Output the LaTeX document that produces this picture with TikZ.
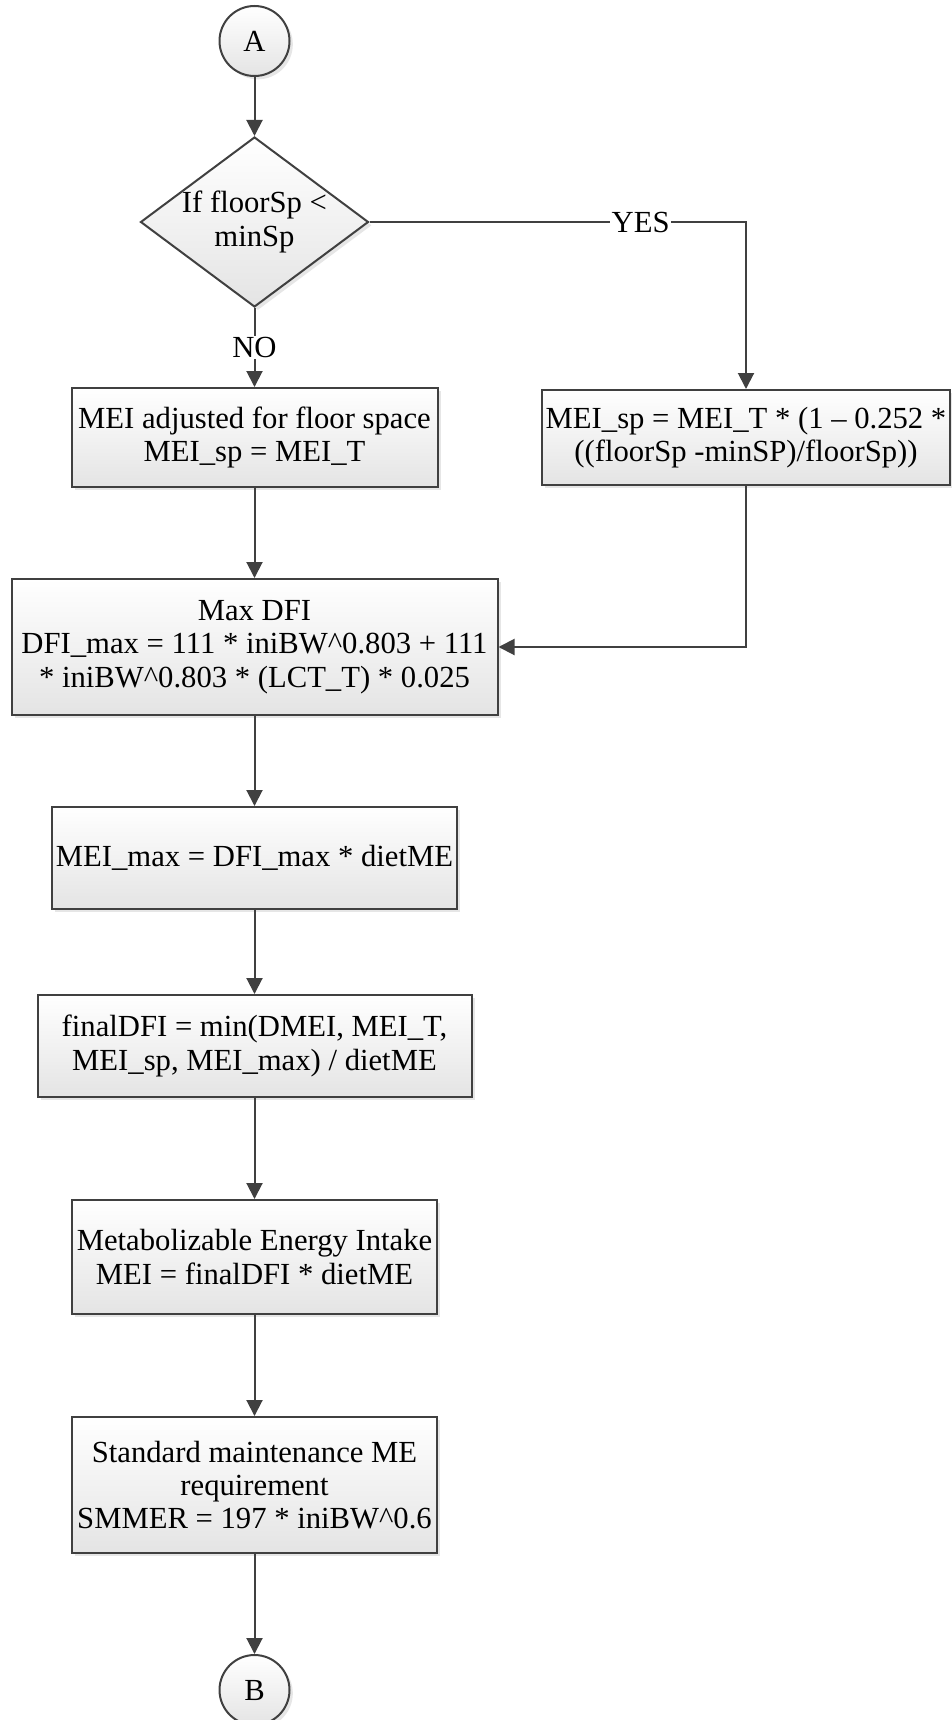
\documentclass[tikz,border=0pt]{standalone}
\usepackage{fontspec}
\setmainfont{Liberation Serif}
\usetikzlibrary{shapes.geometric,arrows.meta,shadows}

\definecolor{FlowLine}{HTML}{404040}
\definecolor{FlowFill}{HTML}{E4E4E4}

\begin{document}
\begin{tikzpicture}[x=0.75pt,y=-0.75pt,font=\fontsize{23}{25}\selectfont,
  shaded/.style={draw=FlowLine,line width=1.5pt,top color=white,bottom color=FlowFill,
    drop shadow={opacity=0.2,shadow xshift=2.5pt,shadow yshift=-2.5pt}},
  procbox/.style={shaded,rectangle,align=center,inner sep=1pt},
  decision/.style={shaded,diamond,align=center,inner sep=0pt,shape aspect=1.34,
    minimum width=171pt,minimum height=127.5pt},
  connector/.style={shaded,circle,inner sep=0pt,minimum size=52.5pt},
  flow/.style={draw=FlowLine,line width=1.5pt,-{Triangle[length=12pt,width=12pt]}},
  flowlabel/.style={fill=white,inner sep=1pt}]
  \useasboundingbox (0,0) rectangle (951,1720);

  \node[connector] (a) at (254.5,41) {A};
  \node[decision] (ifsp) at (254.5,222) {If floorSp <\\minSp};
  \node[procbox,minimum width=274.5pt,minimum height=74.25pt] (mei1) at (254.5,437.5)
    {MEI adjusted for floor space\\MEI\_sp = MEI\_T};
  \node[procbox,minimum width=306pt,minimum height=71.25pt] (meisp) at (746,437.5)
    {MEI\_sp = MEI\_T * (1 – 0.252 *\\((floorSp -minSP)/floorSp))};
  \node[procbox,minimum width=364.5pt,minimum height=102pt] (maxdfi) at (254.5,647)
    {Max DFI\\DFI\_max = 111 * iniBW\textasciicircum0.803 + 111\\* iniBW\textasciicircum0.803 * (LCT\_T) * 0.025};
  \node[procbox,minimum width=303.75pt,minimum height=76.5pt] (meimax) at (254.5,858)
    {MEI\_max = DFI\_max * dietME};
  \node[procbox,minimum width=325.5pt,minimum height=76.5pt] (finaldfi) at (254.5,1046)
    {finalDFI = min(DMEI, MEI\_T,\\MEI\_sp, MEI\_max) / dietME};
  \node[procbox,minimum width=273.75pt,minimum height=85.5pt] (mei) at (254.5,1257)
    {Metabolizable Energy Intake\\MEI = finalDFI * dietME};
  \node[procbox,minimum width=273.75pt,minimum height=102pt] (smmer) at (254.5,1485)
    {Standard maintenance ME\\requirement\\SMMER = 197 * iniBW\textasciicircum0.6};
  \node[connector] (b) at (254.5,1690) {B};

  % connectors
  \draw[flow] (a) -- (ifsp);
  \draw[flow] (ifsp) -- node[flowlabel]{NO} (mei1);
  \draw[flow] (ifsp.east) -| node[flowlabel,pos=0.36]{YES} (meisp.north);
  \draw[flow] (meisp.south) |- (maxdfi.east);
  \draw[flow] (mei1) -- (maxdfi);
  \draw[flow] (maxdfi) -- (meimax);
  \draw[flow] (meimax) -- (finaldfi);
  \draw[flow] (finaldfi) -- (mei);
  \draw[flow] (mei) -- (smmer);
  \draw[flow] (smmer) -- (b);
\end{tikzpicture}
\end{document}
